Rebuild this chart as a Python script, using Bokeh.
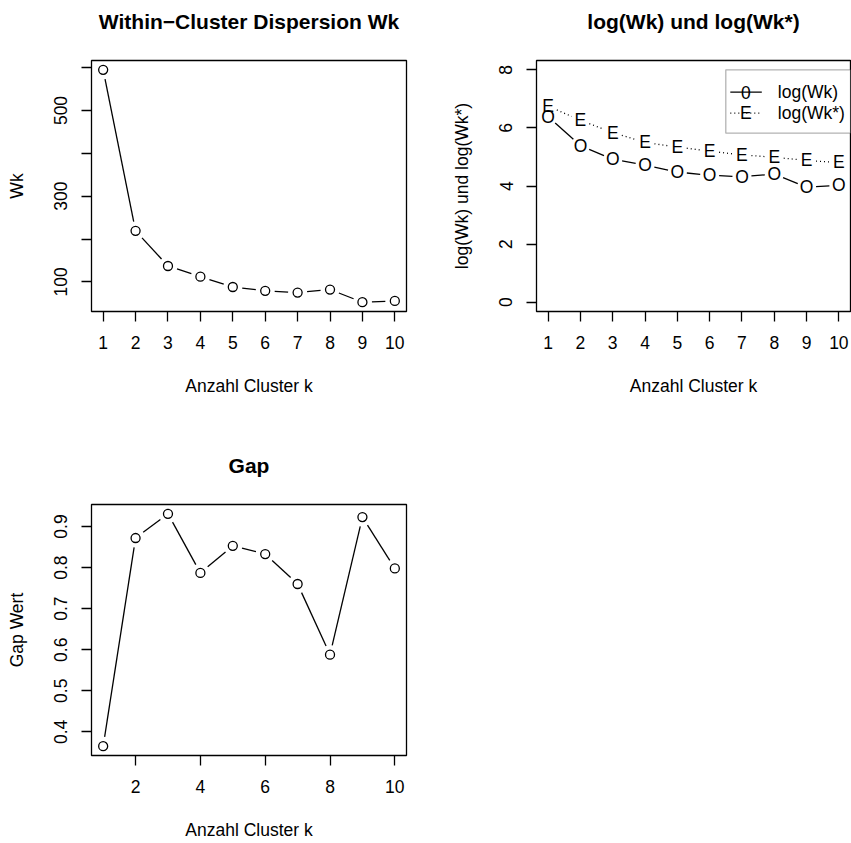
import math
from bokeh.plotting import figure
from bokeh.layouts import gridplot
from bokeh.models import FixedTicker, Range1d, BoxAnnotation, Title
from bokeh.core.properties import value
from bokeh.embed import file_html
from bokeh.resources import INLINE

# ---------------- data ----------------
k = [1, 2, 3, 4, 5, 6, 7, 8, 9, 10]
wk = [595, 219, 137, 112, 88, 79, 75, 82, 52.5, 55.5]
log_wk = [6.39, 5.39, 4.92, 4.72, 4.48, 4.37, 4.32, 4.41, 3.96, 4.02]
log_wk_star = [6.75, 6.26, 5.84, 5.50, 5.34, 5.20, 5.07, 4.99, 4.88, 4.81]
gap = [0.365, 0.872, 0.931, 0.787, 0.853, 0.833, 0.760, 0.588, 0.923, 0.798]

x_ticks_1 = [1, 2, 3, 4, 5, 6, 7, 8, 9, 10]
x_ticks_3 = [2, 4, 6, 8, 10]
y_ticks_1 = [100, 200, 300, 400, 500, 600]
y_labels_1 = {200: "", 400: "", 600: ""}
y_ticks_2 = [0, 2, 4, 6, 8]
y_ticks_3 = [0.4, 0.5, 0.6, 0.7, 0.8, 0.9]
ylim_2 = (0, 8)
legend_labels = ["log(Wk)", "log(Wk*)"]
legend_symbols = ["0", "E"]
legend_x, legend_y = 6.5, 8

FONT = "Liberation Sans"
BASE = "17.5px"
TITLE = "21px"
LW = 1.3
GAP_PX = 9.5


def r_range(vals):
    lo, hi = min(vals), max(vals)
    d = (hi - lo) * 0.04
    return (lo - d, hi + d)


def make_fig(title, xlabel, ylabel, xr, yr, fw, fh, bl, br, bt, bb):
    p = figure(frame_width=fw, frame_height=fh, min_border_left=bl, min_border_right=br,
               min_border_top=bt, min_border_bottom=bb, output_backend="svg",
               toolbar_location=None, x_range=Range1d(*xr), y_range=Range1d(*yr),
               title=None)
    p.grid.visible = False
    p.outline_line_color = "black"
    p.outline_line_width = LW
    p.outline_line_alpha = 1
    p.background_fill_color = "white"
    p.border_fill_color = "white"
    # spacer between frame and title (R places the main title well above the box)
    p.add_layout(Title(text=" ", text_font_size="1px", standoff=25), "above")
    p.add_layout(Title(text=title, text_font=FONT, text_font_size=TITLE,
                       text_font_style="bold", align="center", text_color="black",
                       standoff=0), "above")
    for ax in (p.xaxis[0], p.yaxis[0]):
        ax.axis_line_color = None
        ax.major_tick_out = 10
        ax.major_tick_in = 0
        ax.major_tick_line_width = LW
        ax.major_tick_line_color = "black"
        ax.minor_tick_line_color = None
        ax.major_label_text_font = FONT
        ax.major_label_text_font_size = BASE
        ax.major_label_text_color = "black"
        ax.axis_label_text_font = FONT
        ax.axis_label_text_font_size = BASE
        ax.axis_label_text_font_style = "normal"
        ax.axis_label_text_color = "black"
    p.xaxis[0].axis_label = xlabel
    p.yaxis[0].axis_label = ylabel
    p.xaxis[0].major_label_standoff = 14
    p.xaxis[0].axis_label_standoff = 24
    p.yaxis[0].major_label_orientation = "vertical"
    p.yaxis[0].major_label_standoff = 14
    p.yaxis[0].axis_label_standoff = 25
    return p


def gapped(xs, ys, xr, yr, fw, fh, g):
    sx = fw / (xr[1] - xr[0])
    sy = fh / (yr[1] - yr[0])
    out = dict(x0=[], y0=[], x1=[], y1=[])
    for i in range(len(xs) - 1):
        dx = (xs[i + 1] - xs[i]) * sx
        dy = (ys[i + 1] - ys[i]) * sy
        L = math.hypot(dx, dy)
        if L <= 2 * g:
            continue
        t = g / L
        out["x0"].append(xs[i] + (xs[i + 1] - xs[i]) * t)
        out["y0"].append(ys[i] + (ys[i + 1] - ys[i]) * t)
        out["x1"].append(xs[i + 1] - (xs[i + 1] - xs[i]) * t)
        out["y1"].append(ys[i + 1] - (ys[i + 1] - ys[i]) * t)
    return out


XR = r_range(k)

# ---------- panel 1 ----------
FW1, FH1 = 315, 251
YR1 = r_range(wk)
p1 = make_fig("Within\u2212Cluster Dispersion Wk", "Anzahl Cluster k", "Wk",
              XR, YR1, FW1, FH1, 91, 19, 60, 110)
p1.xaxis[0].ticker = FixedTicker(ticks=x_ticks_1)
p1.yaxis[0].ticker = FixedTicker(ticks=y_ticks_1)
p1.yaxis[0].major_label_overrides = y_labels_1
s = gapped(k, wk, XR, YR1, FW1, FH1, GAP_PX)
p1.segment(x0=s["x0"], y0=s["y0"], x1=s["x1"], y1=s["y1"], line_color="black", line_width=LW)
p1.scatter(k, wk, size=9, marker="circle", fill_color=None, line_color="black", line_width=LW)

# ---------- panel 2 ----------
FW2, FH2 = 314, 251
YR2 = (ylim_2[0] - 0.04 * (ylim_2[1] - ylim_2[0]), ylim_2[1] + 0.04 * (ylim_2[1] - ylim_2[0]))
p2 = make_fig("log(Wk) und log(Wk*)", "Anzahl Cluster k", "log(Wk) und log(Wk*)",
              XR, YR2, FW2, FH2, 111, 1, 60, 110)
p2.xaxis[0].ticker = FixedTicker(ticks=x_ticks_1)
p2.yaxis[0].ticker = FixedTicker(ticks=y_ticks_2)
sx2 = FW2 / (XR[1] - XR[0])
sy2 = FH2 / (YR2[1] - YR2[0])
s = gapped(k, log_wk, XR, YR2, FW2, FH2, GAP_PX)
p2.segment(x0=s["x0"], y0=s["y0"], x1=s["x1"], y1=s["y1"], line_color="black", line_width=LW)
s = gapped(k, log_wk_star, XR, YR2, FW2, FH2, GAP_PX)
p2.segment(x0=s["x0"], y0=s["y0"], x1=s["x1"], y1=s["y1"], line_color="black", line_width=LW,
           line_dash="1 3")
p2.text(x=k, y=log_wk_star, text=["E"] * len(k), text_align="center", text_baseline="middle",
        text_font=value(FONT), text_font_size=BASE, text_color="black")
p2.text(x=k, y=log_wk, text=["O"] * len(k), text_align="center", text_baseline="middle",
        text_font=value(FONT), text_font_size=BASE, text_color="black")

# legend (R-style box anchored at legend_x, legend_y in user coordinates)
box_h = 63.4 / sy2
p2.add_layout(BoxAnnotation(left=legend_x, right=XR[1], top=legend_y, bottom=legend_y - box_h,
                            fill_color="white", fill_alpha=1, line_color="black",
                            line_width=LW, level="underlay"))
row_off = [22.4, 43.4]
dashes = ["solid", "1 3"]
for lab, sym, off, dash in zip(legend_labels, legend_symbols, row_off, dashes):
    yy = legend_y - off / sy2
    p2.segment(x0=[legend_x + 4.5 / sx2], y0=[yy], x1=[legend_x + 36 / sx2], y1=[yy],
               line_color="black", line_width=LW, line_dash=dash)
    p2.text(x=[legend_x + 20 / sx2], y=[yy], text=[sym], text_align="center",
            text_baseline="middle", text_font=value(FONT), text_font_size=BASE,
            text_color="black")
    p2.text(x=[legend_x + 52 / sx2], y=[yy], text=[lab], text_align="left",
            text_baseline="middle", text_font=value(FONT), text_font_size=BASE,
            text_color="black")

# ---------- panel 3 ----------
FW3, FH3 = 315, 251
YR3 = r_range(gap)
p3 = make_fig("Gap", "Anzahl Cluster k", "Gap Wert", XR, YR3, FW3, FH3, 91, 19, 83, 88)
p3.xaxis[0].ticker = FixedTicker(ticks=x_ticks_3)
p3.yaxis[0].ticker = FixedTicker(ticks=y_ticks_3)
s = gapped(k, gap, XR, YR3, FW3, FH3, GAP_PX)
p3.segment(x0=s["x0"], y0=s["y0"], x1=s["x1"], y1=s["y1"], line_color="black", line_width=LW)
p3.scatter(k, gap, size=9, marker="circle", fill_color=None, line_color="black", line_width=LW)

grid = gridplot([[p1, p2], [p3, None]], toolbar_location=None)
open("out.html", "w").write(file_html(grid, INLINE))
